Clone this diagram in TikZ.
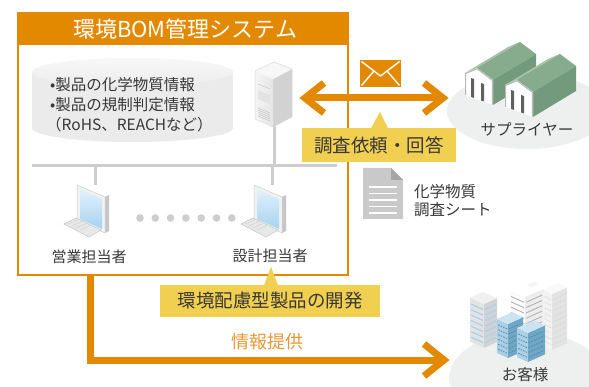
\documentclass[tikz,border=0pt]{standalone}
\usepackage{fontspec}
\setmainfont{Noto Sans CJK JP}
\usetikzlibrary{calc}

\definecolor{sysorange}{HTML}{E38900}
\definecolor{infoorange}{HTML}{E59A3A}
\definecolor{calloutyellow}{HTML}{F1CF50}
\definecolor{inktext}{HTML}{383838}
\definecolor{netgray}{HTML}{CDCDCD}
\definecolor{groundgray}{HTML}{EEF0EF}
\definecolor{docgray}{HTML}{C9C9C9}
\definecolor{docdark}{HTML}{A5A5A5}
\definecolor{roofA}{HTML}{A8C2AA}
\definecolor{roofB}{HTML}{86AC8D}
\definecolor{wallG}{HTML}{739A7C}
\definecolor{blueL}{HTML}{A9D0E6}
\definecolor{blueR}{HTML}{6FA7C6}
\definecolor{blueT}{HTML}{CBE4F1}
\definecolor{screenTop}{HTML}{E2F1FB}
\definecolor{screenBot}{HTML}{A6D2F0}

\tikzset{
  flow/.style={sysorange, line width=7pt, line join=miter},
  netline/.style={netgray, line width=3pt},
  callout/.style={fill=calloutyellow, inner sep=0pt, text=inktext,
    font=\fontsize{18.5}{22}\selectfont},
  label/.style={text=inktext, inner sep=0pt, font=\fontsize{15}{18}\selectfont},
  pc/.pic={
    % monitor side, bezel and screen
    \fill[gray!45] (10,13) -- (14,11) -- (14,47) -- (10,49) -- cycle;
    \fill[gray!10] (-18,1) -- (10,13) -- (10,49) -- (-18,37) -- cycle;
    \draw[gray!40, line width=0.5pt] (-18,1) -- (10,13) -- (10,49) -- (-18,37) -- cycle;
    \shade[top color=screenTop, bottom color=screenBot] (-15,5) -- (7,15) -- (7,45) -- (-15,35) -- cycle;
    % keyboard
    \fill[gray!18] (-31,40) -- (-19,34) -- (6,46) -- (-6,53) -- cycle;
    \draw[gray!45, line width=0.5pt] (-31,40) -- (-19,34) -- (6,46) -- (-6,53) -- cycle;
    \draw[gray!40, line width=0.4pt] (-27,40) -- (-17,35.5) (-23,42) -- (-13,37.5) (-19,44) -- (-9,39.5) (-15,46) -- (-5,41.5);
  }
}

% isometric block: front edge x, bottom y, height, left width, right width, colours
\newcommand\isobox[8]{%
  \fill[#6] (#1,#2) -- (#1,#2-#3) -- ++(-#4,-0.45*#4) -- ++(0,#3) -- cycle;
  \fill[#7] (#1,#2) -- (#1,#2-#3) -- ++(#5,-0.45*#5) -- ++(0,#3) -- cycle;
  \fill[#8] (#1,#2-#3) -- ++(-#4,-0.45*#4) -- ++(#5,-0.45*#5) -- ++(#4,0.45*#4) -- cycle;
}
% window rows on both faces of a block
\newcommand\isorows[7]{%
  \foreach \k in {1,...,#6}{
    \pgfmathsetmacro\rowy{#2-#3+\k*#3/(#6+1)}
    \draw[#7] ({#1-1},\rowy) -- ++({-#4+2},{-0.45*#4+0.9});
    \draw[#7] ({#1+1},\rowy) -- ++({#5-2},{-0.45*#5+0.9});
  }
}
% warehouse with gable front, first argument pair = front bottom-left corner
\newcommand\warehouse[2]{%
  \begin{scope}[shift={(#1,#2)}]
    \fill[roofA] (0,-22) -- (12,-27) -- (55,-53) -- (43,-48) -- cycle;
    \fill[roofB] (12,-27) -- (28,-15) -- (71,-41) -- (55,-53) -- cycle;
    \fill[wallG] (28,-15) -- (28,10) -- (71,-16) -- (71,-41) -- cycle;
    \fill[white] (0,0) -- (0,-22) -- (12,-27) -- (28,-15) -- (28,10) -- cycle;
    \draw[gray!55, line width=1.2pt, line join=round] (0.6,0) -- (0.6,-21.6) -- (12,-26.3) -- (27.4,-14.8) -- (27.4,9.6);
    \fill[gray!75!black] (6,-17) -- (9,-16) -- (9,3) -- (6,2) -- cycle;
    \fill[gray!75!black] (16,-12) -- (19,-11) -- (19,6.5) -- (16,5.5) -- cycle;
  \end{scope}
}

\begin{document}
\begin{tikzpicture}[x=1pt,y=-1pt]
\useasboundingbox (0,0) rectangle (589,387);
\fill[white] (0,0) rectangle (589,387);

\begin{scope}
\clip (0,0) rectangle (589,387);

% ---------- system frame ----------
\draw[sysorange, line width=1.2pt] (18,13) rectangle (348,275);
\fill[sysorange] (18,13) rectangle (348,45);
\node[text=white, inner sep=0pt, font=\fontsize{22}{26}\selectfont] (title) at (185,29) {環境BOM管理システム};

% ---------- database ----------
\fill[gray!16] (132.5,128) ellipse [x radius=100.5, y radius=14];
\fill[gray!16] (32,72) rectangle (233,128);
\shade[top color=gray!6, bottom color=gray!14] (132.5,72) ellipse [x radius=100.5, y radius=14];
\node[label, anchor=west, font=\fontsize{15.5}{18}\selectfont] (db1) at (50,85) {•製品の化学物質情報};
\node[label, anchor=west, font=\fontsize{15.5}{18}\selectfont] (db2) at (50,105) {•製品の規制判定情報};
\node[label, anchor=west, font=\fontsize{15.5}{18}\selectfont] (db3) at (46,125) {（RoHS、REACHなど）};

% ---------- server and network ----------
\coordinate (srv) at (274,126);
\coordinate (netL) at (32,166);
\coordinate (netR) at (337,166);
\coordinate (tapS) at (274,166);
\coordinate (tapA) at (95,166);
\coordinate (tapB) at (272,166);
\draw[netline] (netL) -- (netR);
\draw[netline] (srv) -- (tapS);
\draw[netline] (tapA) -- ++(0,19);
\draw[netline] (tapB) -- ++(0,19);

\fill[gray!35] (273,79) -- (292,69) -- (292,117) -- (273,127) -- cycle;
\shade[left color=gray!8, right color=gray!20] (255,71) -- (273,79) -- (273,127) -- (255,119) -- cycle;
\fill[gray!6] (255,71) -- (274,62) -- (292,69) -- (273,79) -- cycle;
\draw[gray!30, line width=0.5pt] (255,71) -- (274,62) -- (292,69) -- (292,117) -- (273,127) -- (255,119) -- cycle (273,79) -- (273,127);
\fill[gray!22] (258,90) -- (270,95) -- (270,104) -- (258,99) -- cycle;
\draw[gray!45, line width=0.5pt] (258,84) -- (270,89);
\foreach \v in {0,...,4} \draw[gray!50, line width=0.5pt] (258,108+2*\v) -- (270,113+2*\v);

% ---------- workstations ----------
\pic (pcA) at (95,184) {pc};
\pic (pcB) at (272,184) {pc};
\foreach \i in {0,...,6} \fill[netgray] (140+15.3*\i,218) circle (3.8);
\node[label] (sales) at (89,257) {営業担当者};
\node[label] (design) at (270,256) {設計担当者};

% ---------- supplier ----------
\fill[groundgray] (527,111) ellipse [x radius=80, y radius=38];
\warehouse{465}{95}
\warehouse{505}{107}
\node[label, font=\fontsize{15.5}{18}\selectfont] (supplier) at (527,129) {サプライヤー};

% ---------- customer ----------
\fill[groundgray] (527,378) ellipse [x radius=78, y radius=46];
\isobox{552}{350}{56}{9}{15}{gray!10}{gray!22}{gray!5}
\isorows{552}{350}{56}{9}{15}{9}{gray!35, line width=0.6pt, dash pattern=on 1.5pt off 1pt}
\isobox{525}{345}{48}{15}{18}{gray!3}{gray!14}{white}
\isorows{525}{345}{48}{15}{18}{8}{gray!60, line width=0.9pt}
\fill[gray!8] (527,285) -- (533,282) -- (538,284) -- (532,287) -- cycle;
\isobox{484}{348}{44}{14}{13}{gray!22}{gray!35}{gray!12}
\isorows{484}{348}{44}{14}{13}{7}{screenBot, line width=1.2pt}
\isobox{508}{358}{34}{11}{15}{blueL}{blueR}{blueT}
\isorows{508}{358}{34}{11}{15}{6}{blueR!80!black, line width=0.8pt, dash pattern=on 1.5pt off 1.2pt}
\isobox{528}{362}{29}{11}{17}{blueL}{blueR}{blueT}
\isorows{528}{362}{29}{11}{17}{5}{blueR!80!black, line width=0.8pt, dash pattern=on 1.5pt off 1.2pt}
\node[label, font=\fontsize{15.5}{18}\selectfont] (customer) at (525,375) {お客様};

% ---------- request / answer exchange ----------
\coordinate (xL) at (305,98);
\coordinate (xR) at (443,98);
\draw[flow] (xL) -- (xR);
\draw[flow] ($(xL)+(19,-15)$) -- (xL) -- ($(xL)+(19,15)$);
\draw[flow] ($(xR)+(-19,-15)$) -- (xR) -- ($(xR)+(-19,15)$);

\fill[sysorange] (360,60) rectangle (401,87);
\draw[white, line width=1.4pt, line join=round] (361.5,61.5) -- (380.5,76) -- (399.5,61.5);
\draw[white, line width=1.4pt] (361.5,85.5) -- (374,71) (399.5,85.5) -- (387,71);

\node[callout, minimum width=154pt, minimum height=34pt] (req) at (379,145) {調査依頼・回答};
\fill[calloutyellow] ($(req.north)+(-8,0.5)$) -- ($(req.north)+(1,-16)$) -- ($(req.north)+(9,0.5)$) -- cycle;

% survey sheet
\fill[docgray] (363,168) -- (391,168) -- (403,180) -- (403,219) -- (363,219) -- cycle;
\fill[docdark] (391,168) -- (403,180) -- (391,180) -- cycle;
\foreach \v in {0,...,4} \draw[white, line width=1.2pt] (369,187+6.5*\v) -- (397,187+6.5*\v);
\node[label, anchor=west, font=\fontsize{15.5}{18}\selectfont] (sheet1) at (414,192) {化学物質};
\node[label, anchor=west, font=\fontsize{15.5}{18}\selectfont] (sheet2) at (414,210) {調査シート};

% ---------- product development ----------
\node[callout, minimum width=220pt, minimum height=32pt] (dev) at (270,301) {環境配慮型製品の開発};
\fill[calloutyellow] ($(dev.north)+(-6,0.5)$) -- ($(dev.north)+(1,-18)$) -- ($(dev.north)+(8,0.5)$) -- cycle;

% ---------- information to customers ----------
\coordinate (outS) at (90.5,275);
\coordinate (outC) at (90.5,360);
\coordinate (outE) at (444,360);
\draw[flow] (outS) -- (outC) -- (outE);
\draw[flow] ($(outE)+(-20,-16)$) -- (outE) -- ($(outE)+(-20,16)$);
\node[text=infoorange, inner sep=0pt, font=\fontsize{18}{21}\selectfont] (info) at (267,342) {情報提供};
\end{scope}
\end{tikzpicture}
\end{document}
